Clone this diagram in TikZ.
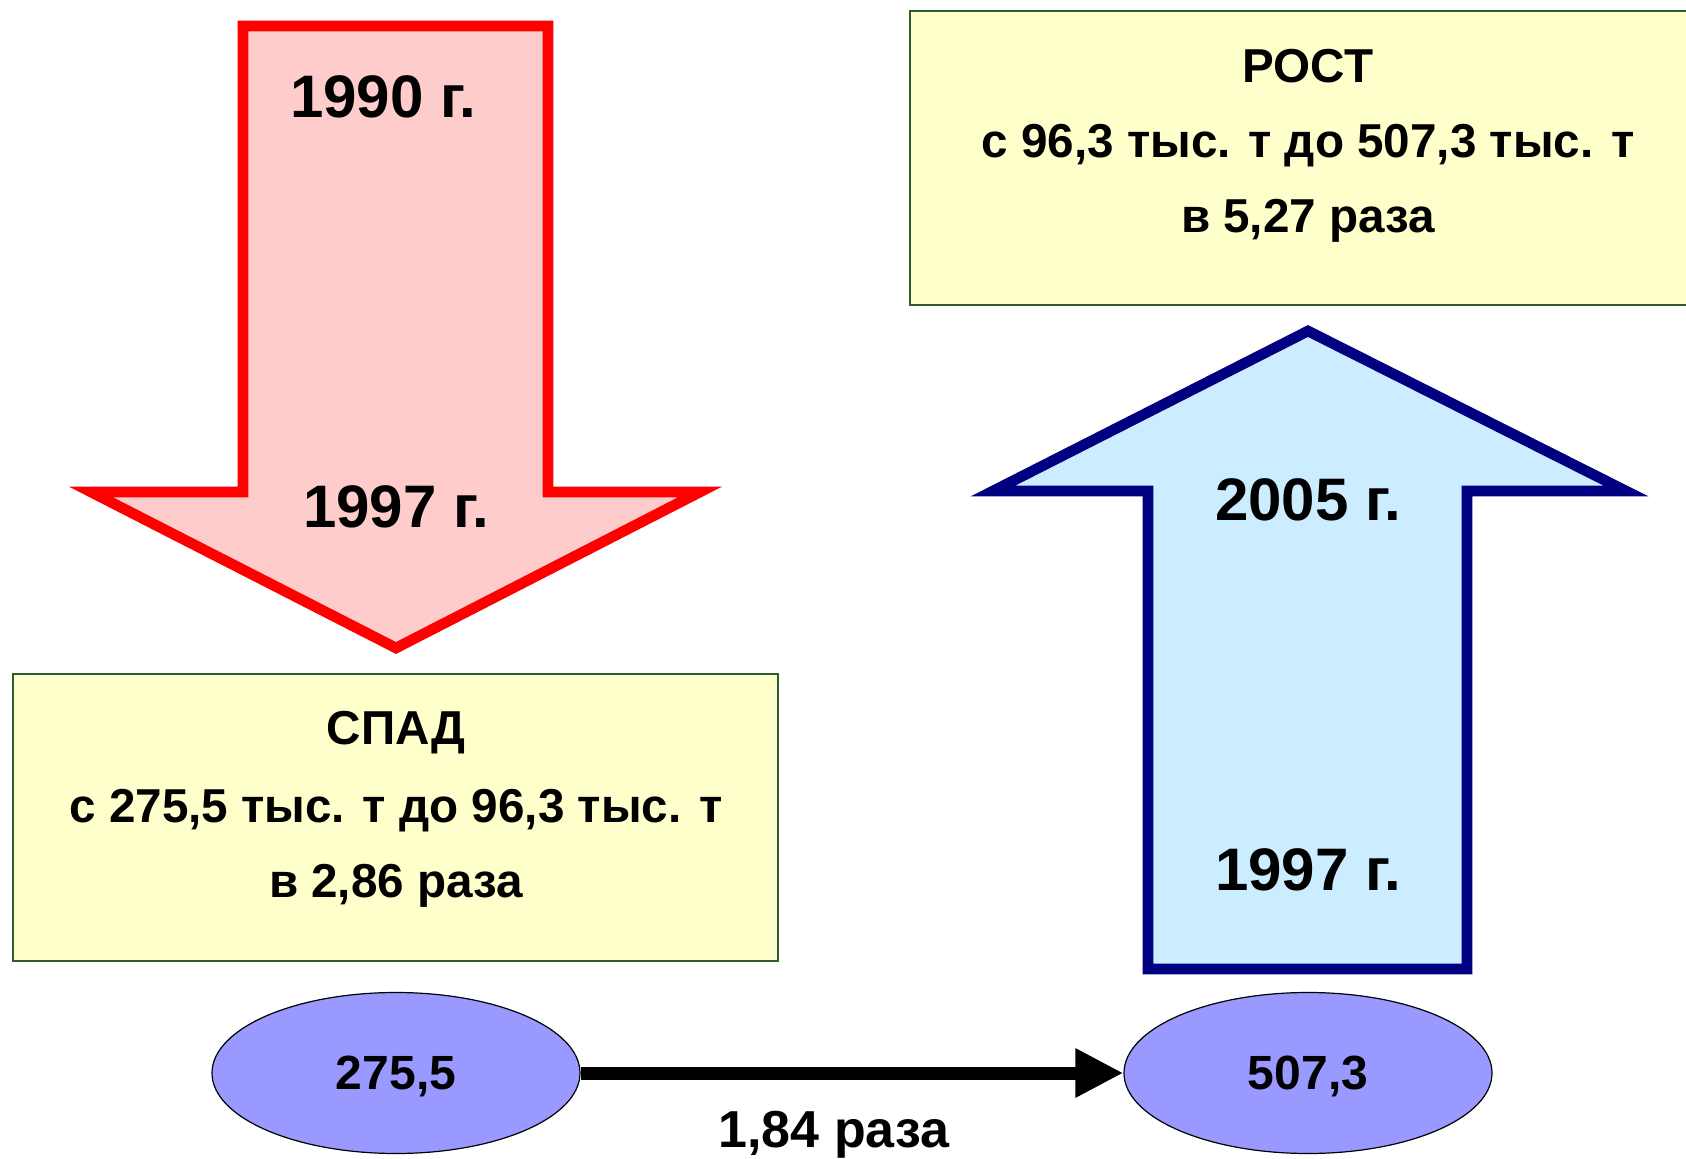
\documentclass[tikz,border=0pt]{standalone}
\usepackage{fontspec}
\setmainfont{Liberation Sans}
\usetikzlibrary{shapes.geometric,arrows.meta}
\definecolor{redfill}{HTML}{FFCCCC}
\definecolor{redline}{HTML}{FF0000}
\definecolor{bluefill}{HTML}{CCECFF}
\definecolor{blueline}{HTML}{000080}
\definecolor{boxfill}{HTML}{FFFFCC}
\definecolor{boxline}{HTML}{2E5E2E}
\definecolor{ellfill}{HTML}{9999FF}
\begin{document}
\begin{tikzpicture}[x=0.5pt,y=-0.5pt,
  yearlbl/.style={font=\bfseries\fontsize{30}{36}\selectfont, inner sep=0, anchor=base},
  boxtxt/.style={font=\bfseries\fontsize{23.8}{28}\selectfont, inner sep=0, anchor=base},
  infobox/.style={draw=boxline, fill=boxfill, line width=0.8pt},
  bigarrow/.style={line width=5.3pt, miter limit=20},
  val/.style={ellipse, draw=black, fill=ellfill, line width=0.6pt,
    minimum width=184pt, minimum height=80.5pt, inner sep=0, text depth=0pt,
    font=\bfseries\fontsize{24}{28}\selectfont},
  conn/.style={line width=6.5pt, -{Triangle[length=24pt,width=23pt]}}]
\useasboundingbox (0,0) rectangle (1686,1159);
\fill[white] (0,0) rectangle (1686,1159);
% red down arrow
\draw[bigarrow, draw=redline, fill=redfill]
  (243,26) -- (548,26) -- (548,492) -- (700,492) -- (396,648) -- (91,492) -- (243,492) -- cycle;
\node[yearlbl] (y1990) at (383,118) {1990 г.};
\node[yearlbl] (y1997a) at (396,528) {1997 г.};
% left info box
\draw[infobox] (13,674) rectangle (778,961);
\node[boxtxt] (spad1) at (396,745) {СПАД};
\node[boxtxt] (spad2) at (396,822) {с 275,5 тыс. т до 96,3 тыс. т};
\node[boxtxt] (spad3) at (396,897) {в 2,86 раза};
% right info box
\draw[infobox] (910,11) rectangle (1700,305);
\node[boxtxt] (rost1) at (1308,83) {РОСТ};
\node[boxtxt] (rost2) at (1308,158) {с 96,3 тыс. т до 507,3 тыс. т};
\node[boxtxt] (rost3) at (1308,233) {в 5,27 раза};
% blue up arrow
\draw[bigarrow, draw=blueline, fill=bluefill]
  (1308,331) -- (1626,491) -- (1467,491) -- (1467,969) -- (1148,969) -- (1148,491) -- (993,491) -- cycle;
\node[yearlbl] (y2005) at (1308,521) {2005 г.};
\node[yearlbl] (y1997b) at (1308,890) {1997 г.};
% ellipses
\node[val] (e1) at (396,1073) {275,5};
\node[val] (e2) at (1308,1073) {507,3};
\draw[conn] (e1) -- (e2);
\node[font=\bfseries\fontsize{26}{30}\selectfont, inner sep=0, anchor=base] (ratio) at (834,1147) {1,84 раза};
\end{tikzpicture}
\end{document}
